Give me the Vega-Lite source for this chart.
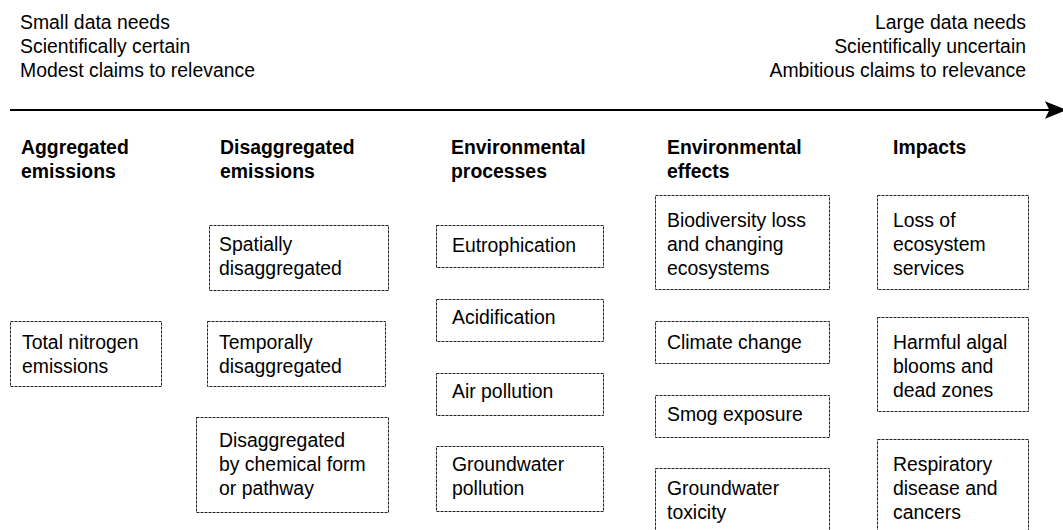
{
  "$schema": "https://vega.github.io/schema/vega-lite/v6.json",
  "width": 1063,
  "height": 530,
  "autosize": {"type": "fit", "contains": "padding"},
  "padding": 0,
  "background": "white",
  "config": {"view": {"stroke": null}},
  "datasets": {
    "boxes": [
      {"x": 10.5, "x2": 161.5, "y": 321.5, "y2": 386.5},
      {"x": 209.5, "x2": 388.5, "y": 225.5, "y2": 290.5},
      {"x": 207.5, "x2": 385.5, "y": 321.5, "y2": 386.5},
      {"x": 196.5, "x2": 388.5, "y": 417.5, "y2": 512.5},
      {"x": 436.5, "x2": 603.5, "y": 225.5, "y2": 267.5},
      {"x": 436.5, "x2": 603.5, "y": 299.5, "y2": 341.5},
      {"x": 436.5, "x2": 603.5, "y": 373.5, "y2": 415.5},
      {"x": 436.5, "x2": 603.5, "y": 446.5, "y2": 511.5},
      {"x": 655.5, "x2": 829.5, "y": 195.5, "y2": 289.5},
      {"x": 655.5, "x2": 829.5, "y": 321.5, "y2": 363.5},
      {"x": 655.5, "x2": 829.5, "y": 395.5, "y2": 437.5},
      {"x": 655.5, "x2": 829.5, "y": 468.5, "y2": 545},
      {"x": 877.5, "x2": 1028.5, "y": 195.5, "y2": 289.5},
      {"x": 877.5, "x2": 1028.5, "y": 317.5, "y2": 411.5},
      {"x": 877.5, "x2": 1028.5, "y": 439.5, "y2": 545}
    ],
    "leftText": [
      {"x": 20, "y": 29, "t": "Small data needs"},
      {"x": 20, "y": 53, "t": "Scientifically certain"},
      {"x": 20, "y": 77, "t": "Modest claims to relevance"},
      {"x": 22, "y": 349, "t": "Total nitrogen"},
      {"x": 22, "y": 373, "t": "emissions"},
      {"x": 219, "y": 251, "t": "Spatially"},
      {"x": 219, "y": 275, "t": "disaggregated"},
      {"x": 219, "y": 349, "t": "Temporally"},
      {"x": 219, "y": 373, "t": "disaggregated"},
      {"x": 219, "y": 447, "t": "Disaggregated"},
      {"x": 219, "y": 471, "t": "by chemical form"},
      {"x": 219, "y": 495, "t": "or pathway"},
      {"x": 452, "y": 252, "t": "Eutrophication"},
      {"x": 452, "y": 324, "t": "Acidification"},
      {"x": 452, "y": 398, "t": "Air pollution"},
      {"x": 452, "y": 471, "t": "Groundwater"},
      {"x": 452, "y": 495, "t": "pollution"},
      {"x": 667, "y": 227, "t": "Biodiversity loss"},
      {"x": 667, "y": 251, "t": "and changing"},
      {"x": 667, "y": 275, "t": "ecosystems"},
      {"x": 667, "y": 349, "t": "Climate change"},
      {"x": 667, "y": 421, "t": "Smog exposure"},
      {"x": 667, "y": 495, "t": "Groundwater"},
      {"x": 667, "y": 519, "t": "toxicity"},
      {"x": 893, "y": 227, "t": "Loss of"},
      {"x": 893, "y": 251, "t": "ecosystem"},
      {"x": 893, "y": 275, "t": "services"},
      {"x": 893, "y": 349, "t": "Harmful algal"},
      {"x": 893, "y": 373, "t": "blooms and"},
      {"x": 893, "y": 397, "t": "dead zones"},
      {"x": 893, "y": 471, "t": "Respiratory"},
      {"x": 893, "y": 495, "t": "disease and"},
      {"x": 893, "y": 519, "t": "cancers"}
    ],
    "rightText": [
      {"x": 1026, "y": 29, "t": "Large data needs"},
      {"x": 1026, "y": 53, "t": "Scientifically uncertain"},
      {"x": 1026, "y": 77, "t": "Ambitious claims to relevance"}
    ],
    "headers": [
      {"x": 21, "y": 154, "t": "Aggregated"},
      {"x": 21, "y": 178, "t": "emissions"},
      {"x": 220, "y": 154, "t": "Disaggregated"},
      {"x": 220, "y": 178, "t": "emissions"},
      {"x": 451, "y": 154, "t": "Environmental"},
      {"x": 451, "y": 178, "t": "processes"},
      {"x": 667, "y": 154, "t": "Environmental"},
      {"x": 667, "y": 178, "t": "effects"},
      {"x": 893, "y": 154, "t": "Impacts"}
    ],
    "arrow": [{"x": 10, "x2": 1052, "y": 110}],
    "head": [{"x": 1056, "y": 110}]
  },
  "layer": [
    {
      "data": {"name": "boxes"},
      "mark": {"type": "rect", "filled": false, "color": "#222222", "strokeWidth": 1, "strokeDash": [3, 1], "clip": true},
      "encoding": {
        "x": {"field": "x", "type": "quantitative", "scale": {"domain": [0, 1063], "nice": false, "zero": false}, "axis": null},
        "x2": {"field": "x2"},
        "y": {"field": "y", "type": "quantitative", "scale": {"domain": [0, 530], "nice": false, "zero": false, "reverse": true}, "axis": null},
        "y2": {"field": "y2"}
      }
    },
    {
      "data": {"name": "leftText"},
      "mark": {"type": "text", "align": "left", "baseline": "alphabetic", "font": "Liberation Sans", "fontSize": 19.4, "color": "#000000"},
      "encoding": {
        "x": {"field": "x", "type": "quantitative"},
        "y": {"field": "y", "type": "quantitative"},
        "text": {"field": "t"}
      }
    },
    {
      "data": {"name": "rightText"},
      "mark": {"type": "text", "align": "right", "baseline": "alphabetic", "font": "Liberation Sans", "fontSize": 19.4, "color": "#000000"},
      "encoding": {
        "x": {"field": "x", "type": "quantitative"},
        "y": {"field": "y", "type": "quantitative"},
        "text": {"field": "t"}
      }
    },
    {
      "data": {"name": "headers"},
      "mark": {"type": "text", "align": "left", "baseline": "alphabetic", "font": "Liberation Sans", "fontWeight": "bold", "fontSize": 19.4, "color": "#000000"},
      "encoding": {
        "x": {"field": "x", "type": "quantitative"},
        "y": {"field": "y", "type": "quantitative"},
        "text": {"field": "t"}
      }
    },
    {
      "data": {"name": "arrow"},
      "mark": {"type": "rule", "color": "#000000", "strokeWidth": 2},
      "encoding": {
        "x": {"field": "x", "type": "quantitative"},
        "x2": {"field": "x2"},
        "y": {"field": "y", "type": "quantitative"}
      }
    },
    {
      "data": {"name": "head"},
      "mark": {"type": "point", "shape": "M-1,-0.8L1,0L-1,0.8L-0.6,0Z", "filled": true, "color": "#000000", "opacity": 1, "size": 484, "clip": true},
      "encoding": {
        "x": {"field": "x", "type": "quantitative"},
        "y": {"field": "y", "type": "quantitative"}
      }
    }
  ]
}
